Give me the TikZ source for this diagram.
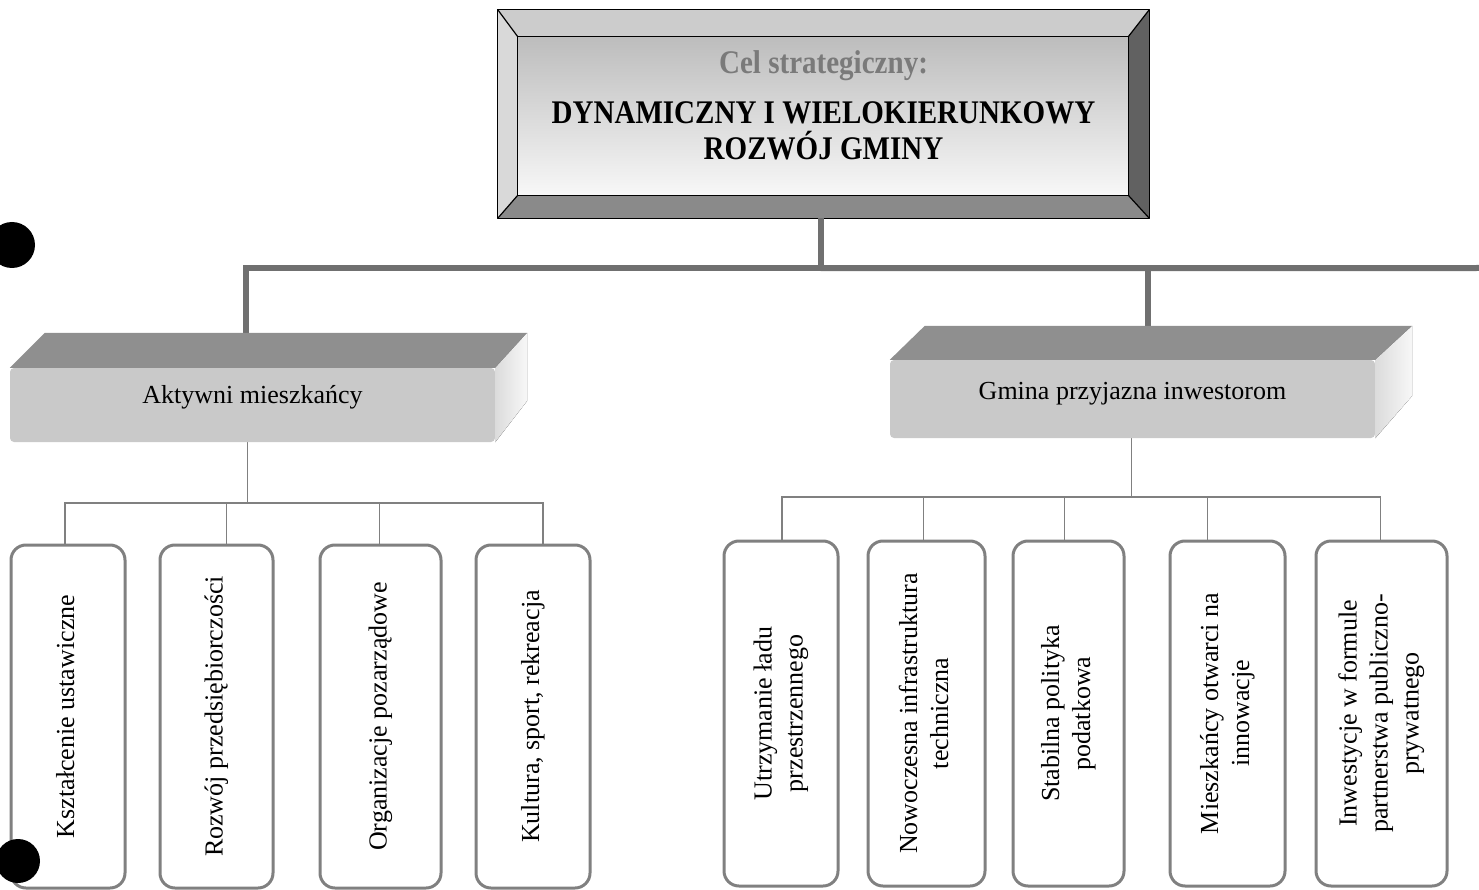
\documentclass[tikz,border=0pt]{standalone}
\usepackage{fontspec}
\setmainfont{Liberation Serif}
\usetikzlibrary{calc,backgrounds}
\tikzset{
  frontface/.style={fill=black!21, inner sep=0pt, font=\fontsize{26}{31}\selectfont, rounded corners=4pt},
  topface/.style={fill=black!44},
  sideface/.style={left color=black!14, right color=black!3},
  leafbox/.style={draw=black!50, line width=3pt, rounded corners=15pt, fill=white, inner sep=0pt, font=\fontsize{26}{31}\selectfont},
  thickconn/.style={draw=black!56, line width=6pt},
  thinconn/.style={draw=black!50, line width=1.6pt},
  bevelline/.style={draw=black, line width=1.2pt, line join=round},
  dot/.style={fill=black},
}
\newcommand{\vtext}[1]{\rotatebox{90}{\begin{tabular}{@{}c@{}}#1\end{tabular}}}
\newcommand{\condensed}[1]{\scalebox{0.88}[1]{#1}}
\begin{document}
\begin{tikzpicture}[x=1pt,y=-1pt]
\useasboundingbox (0,0) rectangle (1479,890);

% ---------- top box ----------
\node[minimum width=651pt, minimum height=208pt, inner sep=0pt] (top) at (823.5,114) {};
\coordinate (iNW) at ([shift={(20,27)}]top.north west);
\coordinate (iNE) at ([shift={(-21,27)}]top.north east);
\coordinate (iSE) at ([shift={(-21,-23)}]top.south east);
\coordinate (iSW) at ([shift={(20,-23)}]top.south west);
\node[font=\fontsize{33}{36}\selectfont\bfseries, align=center, inner sep=0pt] (title) at (823.5,105)
  {\condensed{\textcolor{black!52}{Cel strategiczny:}}\\[14pt] \condensed{DYNAMICZNY I WIELOKIERUNKOWY}\\\condensed{ROZWÓJ GMINY}};

% ---------- 3D boxes ----------
\node[frontface, minimum width=485pt, minimum height=74pt] (b1) at (252.5,405) {\raisebox{21pt}{Aktywni mieszkańcy}};
\fill[topface] (b1.north west) -- ++(35,-35) -- ([shift={(32,-35)}]b1.north east) -- (b1.north east) -- cycle;
\fill[sideface] (b1.north east) -- ++(32,-35) -- ++(0,68) -- (b1.south east) -- cycle;

\node[frontface, minimum width=485pt, minimum height=78pt] (b2) at (1132.5,399) {\raisebox{17pt}{Gmina przyjazna inwestorom}};
\fill[topface] (b2.north west) -- ++(35,-34) -- ([shift={(37,-34)}]b2.north east) -- (b2.north east) -- cycle;
\fill[sideface] (b2.north east) -- ++(37,-34) -- ++(0,70) -- (b2.south east) -- cycle;

% ---------- leaf boxes, left ----------
\node[leafbox, minimum width=114pt, minimum height=343pt] (L1) at (68,716.5) {\vtext{Kształcenie ustawiczne}};
\node[leafbox, minimum width=113pt, minimum height=343pt] (L2) at (216.5,716.5) {\vtext{Rozwój przedsiębiorczości}};
\node[leafbox, minimum width=121pt, minimum height=343pt] (L3) at (380.5,716.5) {\vtext{Organizacje pozarządowe}};
\node[leafbox, minimum width=114pt, minimum height=343pt] (L4) at (533,716.5) {\vtext{Kultura, sport, rekreacja}};

% ---------- leaf boxes, right ----------
\node[leafbox, minimum width=114pt, minimum height=345pt] (R1) at (781,713.5) {\vtext{Utrzymanie ładu\\przestrzennego}};
\node[leafbox, minimum width=117pt, minimum height=345pt] (R2) at (926.5,713.5) {\vtext{Nowoczesna infrastruktura\\techniczna}};
\node[leafbox, minimum width=111pt, minimum height=345pt] (R3) at (1068.5,713.5) {\vtext{Stabilna polityka\\podatkowa}};
\node[leafbox, minimum width=115pt, minimum height=345pt] (R4) at (1227.5,713.5) {\vtext{Mieszkańcy otwarci na\\innowacje}};
\node[leafbox, minimum width=131pt, minimum height=345pt] (R5) at (1381.5,713.5) {\vtext{Inwestycje w formule\\partnerstwa publiczno-\\prywatnego}};

% ---------- scan dots ----------
\fill[dot] (12,245) circle (23);
\fill[dot] (18,861) circle (22);

\begin{pgfonlayer}{background}
  % top box bevels
  \fill[black!20] (top.north west) -- (top.north east) -- (iNE) -- (iNW) -- cycle;
  \fill[black!15] (top.north west) -- (iNW) -- (iSW) -- (top.south west) -- cycle;
  \fill[black!62] (top.north east) -- (top.south east) -- (iSE) -- (iNE) -- cycle;
  \fill[black!46] (top.south west) -- (iSW) -- (iSE) -- (top.south east) -- cycle;
  \shade[top color=black!26, bottom color=black!3] (iNW) rectangle (iSE);
  \draw[bevelline] (top.north west) rectangle (top.south east);
  \draw[bevelline] (iNW) rectangle (iSE);
  \draw[bevelline] (top.north west) -- (iNW) (top.north east) -- (iNE)
                   (top.south east) -- (iSE) (top.south west) -- (iSW);

  % thick connectors
  \coordinate (busend) at (1479,268);
  \draw[thickconn] ([xshift=-3pt]top.south) -- ++(0,50) coordinate (tbus);
  \draw[thickconn] (tbus) -| ([xshift=-7pt]b1.north);
  \draw[thickconn] (tbus) -- (busend);
  \draw[thickconn] (tbus) -| ([xshift=15pt]b2.north);

  % thin connectors, left
  \draw[thinconn] ([xshift=-5pt]b1.south) -- ++(0,61) coordinate (lbus);
  \draw[thinconn] (lbus) -| ([xshift=-3pt]L1.north);
  \draw[thinconn] (lbus) -| ([xshift=10pt]L2.north);
  \draw[thinconn] (lbus) -| ([xshift=-1pt]L3.north);
  \draw[thinconn] (lbus) -| ([xshift=10pt]L4.north);

  % thin connectors, right
  \draw[thinconn] ([xshift=-1pt]b2.south) -- ++(0,59) coordinate (rbus);
  \draw[thinconn] (rbus) -| ([xshift=1pt]R1.north);
  \draw[thinconn] (rbus) -| ([xshift=-3pt]R2.north);
  \draw[thinconn] (rbus) -| ([xshift=-4pt]R3.north);
  \draw[thinconn] (rbus) -| ([xshift=-20pt]R4.north);
  \draw[thinconn] (rbus) -| ([xshift=-1pt]R5.north);
\end{pgfonlayer}
\end{tikzpicture}
\end{document}
